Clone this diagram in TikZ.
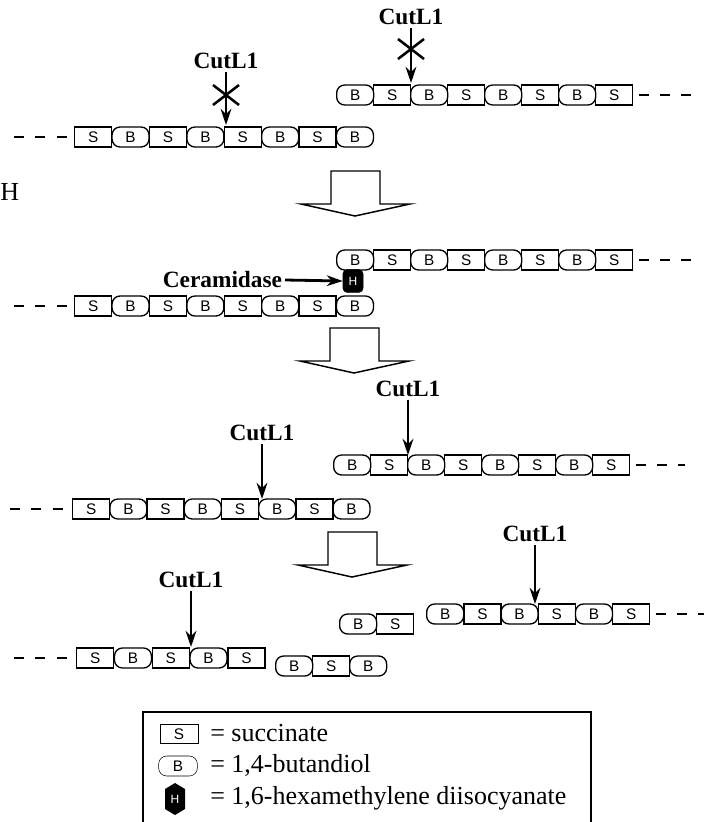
\documentclass[tikz,border=0pt]{standalone}
\usepackage{fontspec}
\setmainfont{Liberation Serif}
\setsansfont{Liberation Sans}
\usepackage{tikz}
\usetikzlibrary{shapes,arrows,arrows.meta,positioning,calc}

\tikzset{
	succ/.style={draw, rectangle, line width=1pt, minimum width=37*0.75pt, minimum height=20*0.75pt, inner sep=0pt, font=\sffamily\fontsize{11.5}{11.5}\selectfont, anchor=west},
	buta/.style={succ, rounded corners=6pt},
	cutl/.style={font=\bfseries\fontsize{17.5}{17.5}\selectfont, inner sep=2pt},
	enz/.style={-{Stealth[length=12pt,width=8pt]}, line width=2.1pt},
	tail/.style={line width=1.6pt, dash pattern=on 7.5pt off 8.5pt},
	bigarr/.style={line width=1.1pt, fill=white},
	txt/.style={font=\fontsize{19.5}{19.5}\selectfont, anchor=west},
	hexa/.style={draw, fill=black, text=white, rounded corners=3pt, minimum width=15pt, minimum height=17pt, inner sep=0pt, font=\sffamily\fontsize{9}{9}\selectfont}
}

\begin{document}
\begin{tikzpicture}[x=0.75pt, y=-0.75pt]
	\useasboundingbox (0,0) rectangle (708,822);
	% Upper chains
	\foreach \n/\t/\s [count=\i from 0] in {a/B/buta,b/S/succ,c/B/buta,d/S/succ,e/B/buta,f/S/succ,g/B/buta,h/S/succ} {
		\node[\s] (top\n) at ({336+37*\i},95) {\t};
		\node[\s] (mid\n) at ({336+37*\i},260) {\t};
		\node[\s] (thr\n) at ({333+37*\i},465) {\t};
	}
	\foreach \n/\t/\s [count=\i from 0] in {a/S/succ,b/B/buta,c/S/succ,d/B/buta,e/S/succ,f/B/buta,g/S/succ,h/B/buta} {
		\node[\s] (low\n) at ({74+37.4*\i},137) {\t};
		\node[\s] (cer\n) at ({74+37.4*\i},306) {\t};
		\node[\s] (fou\n) at ({72+37.2*\i},509) {\t};
	}
	\coordinate (topend) at (692,95);
	\coordinate (midend) at (692,260);
	\coordinate (thrend) at (685,465);
	\coordinate (lowend) at (14,137);
	\coordinate (cerend) at (14,306);
	\coordinate (fouend) at (10,509);
	\draw[tail] (toph.east) ++(4pt,0) -- (topend);
	\draw[tail] (midh.east) ++(4pt,0) -- (midend);
	\draw[tail] (thrh.east) ++(4pt,0) -- (thrend);
	\draw[tail] (lowend) -- (lowa.west);
	\draw[tail] (cerend) -- (cera.west);
	\draw[tail] (fouend) -- (foua.west);
	% CutL1 with star
	\node[cutl] (cut1) at (411,17) {CutL1};
	\node[cutl] (cut2) at (226,61) {CutL1};
	\coordinate (hit1) at (411,83);
	\coordinate (hit2) at (226,125);
	\draw[enz] (cut1.south) -- (hit1);
	\draw[enz] (cut2.south) -- (hit2);
	\draw[line width=1.9pt] (398,39) -- (424,59) (398,59) -- (424,39);
	\draw[line width=1.9pt] (213,85) -- (239,105) (213,105) -- (239,85);
	% Big arrows
	\foreach \y/\x in {171/331,328/330,532/328} {
		\draw[bigarr] (\x,\y) -- (\x+49,\y) -- (\x+49,\y+33) -- (\x+79,\y+33) -- (\x+24,\y+45) -- (\x-30,\y+33) -- (\x,\y+33) -- cycle;
	}
	\node[txt, inner sep=0pt] (cutoff) at (0,192) {H};
	% Ceramidase
	\node[hexa] (hex) at (353,281) {H};
	\node[cutl, anchor=east] (cera) at (285,280) {Ceramidase};
	\draw[enz] (cera.east) -- (hex.west);
	% Lower stage
	\node[cutl] (cut3) at (408,389) {CutL1};
	\node[cutl] (cut4) at (262,433) {CutL1};
	\node[cutl] (cut5) at (535,534) {CutL1};
	\node[cutl] (cut6) at (191,580) {CutL1};
	\coordinate (hit3) at (408,455);
	\coordinate (hit4) at (262,499);
	\coordinate (hit5) at (535,604);
	\coordinate (hit6) at (191,647);
	\draw[enz] (cut3.south) -- (hit3);
	\draw[enz] (cut4.south) -- (hit4);
	\draw[enz] (cut5.south) -- (hit5);
	\draw[enz] (cut6.south) -- (hit6);
	% Fragments
	\node[buta] (fra) at (339,624) {B};
	\node[succ] (frb) at (376,624) {S};
	\foreach \n/\t/\s [count=\i from 0] in {a/B/buta,b/S/succ,c/B/buta,d/S/succ,e/B/buta,f/S/succ} {
		\node[\s] (fiv\n) at ({426+37.2*\i},614) {\t};
	}
	\coordinate (fivend) at (704,614);
	\draw[tail] (fivf.east) ++(4pt,0) -- (fivend);
	\foreach \n/\t/\s [count=\i from 0] in {a/S/succ,b/B/buta,c/S/succ,d/B/buta,e/S/succ} {
		\node[\s] (six\n) at ({76+37.8*\i},658) {\t};
	}
	\coordinate (sixend) at (14,658);
	\draw[tail] (sixend) -- (sixa.west);
	\foreach \n/\t/\s [count=\i from 0] in {a/B/buta,b/S/succ,c/B/buta} {
		\node[\s] (sev\n) at ({275+37*\i},666) {\t};
	}
	% Legend
	\draw[line width=1.1pt] (143,823) -- (143,712) -- (591,712) -- (591,823);
	\node[succ, anchor=center, minimum width=28.5pt, minimum height=14pt, thin] (legs) at (179,734) {S};
	\node[buta, anchor=center, minimum width=29pt, minimum height=15pt, thin] (legb) at (178,766) {B};
	\fill (165,789) -- (175,783) -- (185,789) -- (185,809) -- (175,815) -- (165,809) -- cycle;
	\node[text=white, font=\sffamily\fontsize{9}{9}\selectfont, inner sep=0pt] (legh) at (175,799) {H};
	\node[txt, inner sep=0pt] (tsucc) at (210,733) {= succinate};
	\node[txt, inner sep=0pt] (tbuta) at (210,765) {= 1,4-butandiol};
	\node[txt, inner sep=0pt] (thexa) at (210,798) {= 1,6-hexamethylene diisocyanate};
\end{tikzpicture}
\end{document}
